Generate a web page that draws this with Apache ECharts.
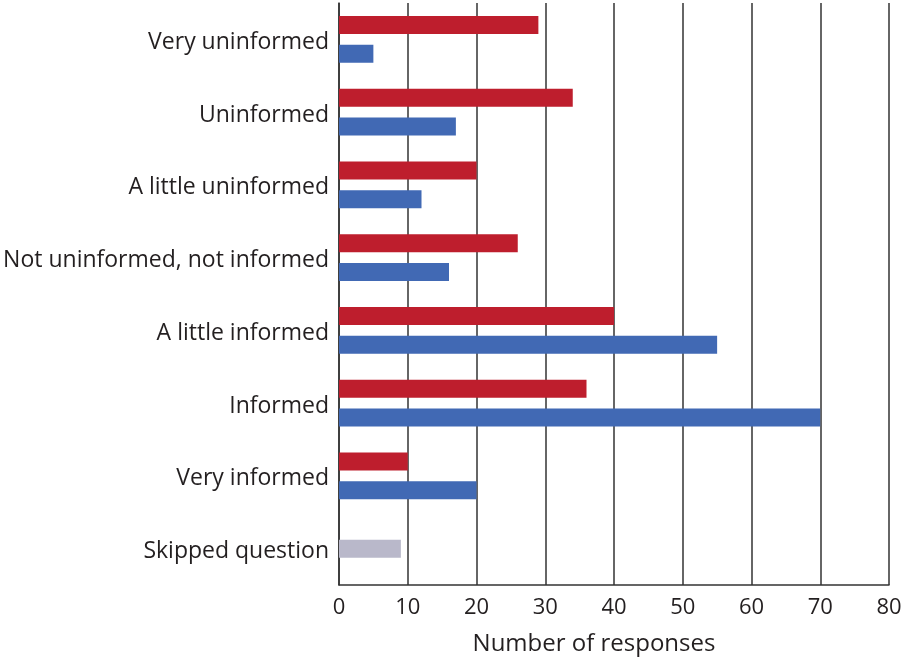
<!DOCTYPE html>
<html>
<head>
<meta charset="utf-8">
<script src="https://cdn.jsdelivr.net/npm/echarts@6/dist/echarts.min.js"></script>
<style>
html,body{margin:0;padding:0;background:#fff;}
#chart{width:906px;height:661px;}
</style>
</head>
<body>
<div id="chart"></div>
<script>
var categories = ["Very uninformed","Uninformed","A little uninformed","Not uninformed, not informed","A little informed","Informed","Very informed","Skipped question"];
var redValues = [29, 34, 20, 26, 40, 36, 10, null];
var blueValues = [5, 17, 12, 16, 55, 70, 20, null];
var skippedValues = [null, null, null, null, null, null, null, 9];
var xTicks = [0, 10, 20, 30, 40, 50, 60, 70, 80];

var FONT = "Open Sans";
var chart = echarts.init(document.getElementById('chart'), null, {renderer: 'canvas'});
chart.setOption({
  animation: false,
  backgroundColor: '#ffffff',
  grid: {left: 339, right: 17, top: 3, bottom: 74, containLabel: false},
  xAxis: {
    type: 'value', min: xTicks[0], max: xTicks[xTicks.length-1], interval: 10,
    name: 'Number of responses', nameLocation: 'middle', nameGap: 47,
    nameTextStyle: {fontFamily: FONT, fontSize: 24, color: '#231f20', padding: [0, 40, 0, 0]},
    axisLine: {show: true, lineStyle: {color: '#333333', width: 1.5}},
    axisTick: {show: false},
    axisLabel: {fontFamily: FONT, fontSize: 22, color: '#231f20', margin: 12},
    splitLine: {show: true, lineStyle: {color: '#333333', width: 1.5}}
  },
  yAxis: [{
    type: 'category', data: categories, inverse: true,
    axisLine: {show: true, lineStyle: {color: '#333333', width: 1.5}},
    axisTick: {show: false},
    axisLabel: {fontFamily: FONT, fontSize: 23, color: '#231f20', margin: 10,
      verticalAlign: 'top', lineHeight: 6},
    splitLine: {show: false}
  }, {
    type: 'category', data: categories, inverse: true, show: false
  }],
  series: [{
    type: 'bar', data: redValues, barWidth: 18, barGap: '61%',
    itemStyle: {color: '#be1e2d'}, yAxisIndex: 0
  }, {
    type: 'bar', data: blueValues, barWidth: 18, barGap: '61%',
    itemStyle: {color: '#4169b4'}, yAxisIndex: 0
  }, {
    type: 'bar', data: skippedValues, barWidth: 18,
    itemStyle: {color: '#b9b8ca'}, yAxisIndex: 1
  }]
});
</script>
</body>
</html>
